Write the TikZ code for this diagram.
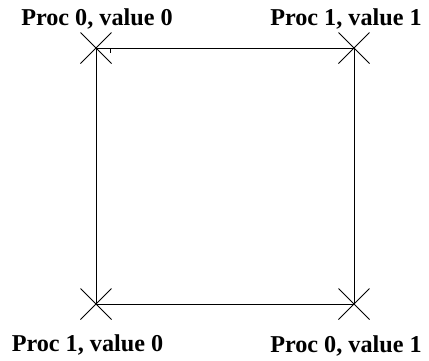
\documentclass[tikz,border=0pt]{standalone}
\usepackage{fontspec}
\setmainfont{Liberation Serif}
\usetikzlibrary{shapes.misc}
\begin{document}
\begin{tikzpicture}[x=1pt,y=-1pt,
  corner/.style={cross out,draw,line width=1pt,minimum size=30pt,inner sep=0pt},
  edge/.style={line width=1pt},
  lab/.style={anchor=base,inner sep=0pt,font=\bfseries\fontsize{24.2}{28}\selectfont}]
\useasboundingbox (0,0) rectangle (429,360);
\node[corner] (tl) at (96,48) {};
\node[corner] (tr) at (354,48) {};
\node[corner] (bl) at (96,304) {};
\node[corner] (br) at (354,304) {};
\draw[edge] (tl.center) -- (tr.center) -- (br.center) -- (bl.center) -- cycle;
\coordinate (t1) at (110.5,49);
\coordinate (t2) at (110.5,53);
\draw[line width=0.6pt] (t1) -- (t2);
\node[lab] (ltl) at (97,25) {Proc 0, value 0};
\node[lab] (ltr) at (346,25) {Proc 1, value 1};
\node[lab] (lbl) at (87.5,351) {Proc 1, value 0};
\node[lab] (lbr) at (346,352) {Proc 0, value 1};
\end{tikzpicture}
\end{document}
